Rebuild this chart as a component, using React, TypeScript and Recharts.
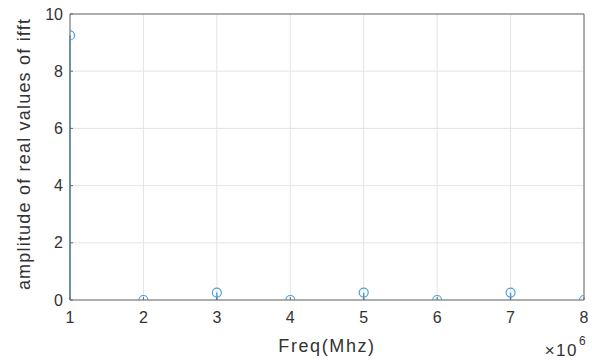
import React from 'react';
import { ComposedChart, XAxis, YAxis, CartesianGrid, Scatter, ReferenceLine } from 'recharts';

const freqs = [1, 2, 3, 4, 5, 6, 7, 8];
const amplitudes = [9.25, 0, 0.26, 0, 0.26, 0, 0.26, 0];
const xTicks = [1, 2, 3, 4, 5, 6, 7, 8];
const yTicks = [0, 2, 4, 6, 8, 10];
const xLabel = 'Freq(Mhz)';
const yLabel = 'amplitude of real values of ifft';

const data = freqs.map((f, i) => ({ f, a: amplitudes[i] }));

const BLUE = '#4aa0dc';
const AXIS = '#6b6b6b';
const TEXT = '#333333';
const FONT = 'Liberation Sans, Arial, Helvetica, sans-serif';

const StemHead = (props: any) => {
  const { cx, cy } = props;
  return <circle cx={cx} cy={cy} r={4.5} fill="none" stroke={BLUE} strokeWidth={1.2} />;
};

const NoShape = () => <g />;

const YLabelContent = (props: any) => {
  const vb = props.viewBox || {};
  const x = vb.x + 24;
  const y = vb.y + vb.height / 2 - 3;
  return (
    <text x={x} y={y} transform={`rotate(-90 ${x} ${y})`} textAnchor="middle" dominantBaseline="central"
      fontFamily={FONT} fontSize={18} fill={TEXT} letterSpacing={1.2}>
      {yLabel}
    </text>
  );
};

const XLabelContent = (props: any) => {
  const vb = props.viewBox || {};
  const cx = vb.x + vb.width / 2;
  const bottom = vb.y + vb.height;
  return (
    <g fontFamily={FONT} fill={TEXT}>
      <text x={cx} y={bottom - 8} textAnchor="middle" fontSize={18} letterSpacing={1.6}>{xLabel}</text>
      <text x={vb.x + vb.width - 6} y={bottom - 4} textAnchor="end" fontSize={17} letterSpacing={1.5}>×10</text>
      <text x={vb.x + vb.width - 5} y={bottom - 15} textAnchor="start" fontSize={12}>6</text>
    </g>
  );
};

export default function App() {
  return (
    <div style={{ position: 'absolute', left: 0, top: 0, width: 592, height: 360, background: '#fff' }}>
      <ComposedChart width={592} height={360} data={data} margin={{ top: 14, right: 8, left: 0, bottom: 0 }}>
        <CartesianGrid stroke="#e4e4e4" strokeWidth={1} horizontal vertical />
        <XAxis
          xAxisId="top"
          orientation="top"
          type="number"
          dataKey="f"
          domain={[1, 8]}
          ticks={xTicks}
          height={0}
          tickSize={-3}
          tickFormatter={() => ''}
          stroke={AXIS}
          allowDataOverflow
        />
        <YAxis
          yAxisId="right"
          orientation="right"
          type="number"
          dataKey="a"
          domain={[0, 10]}
          ticks={yTicks}
          width={0}
          tickSize={-3}
          tickFormatter={() => ''}
          stroke={AXIS}
          allowDataOverflow
        />
        <XAxis
          type="number"
          dataKey="f"
          domain={[1, 8]}
          ticks={xTicks}
          height={60}
          tickSize={-3}
          tickMargin={15}
          stroke={AXIS}
          fontSize={16}
          tick={{ fill: TEXT, fontSize: 16, fontFamily: FONT }}
          allowDataOverflow
          label={{ content: XLabelContent }}
        />
        <YAxis
          type="number"
          dataKey="a"
          domain={[0, 10]}
          ticks={yTicks}
          width={70}
          tickSize={-3}
          tickMargin={10}
          stroke={AXIS}
          fontSize={16}
          tick={{ fill: TEXT, fontSize: 16, fontFamily: FONT }}
          allowDataOverflow
          label={{ content: YLabelContent }}
        />
        <ReferenceLine y={10} stroke={AXIS} ifOverflow="visible" />
        <ReferenceLine x={8} stroke={AXIS} ifOverflow="visible" />
        {data.map((d) => (
          <ReferenceLine
            key={d.f}
            segment={[{ x: d.f, y: 0 }, { x: d.f, y: d.a }]}
            stroke={BLUE}
            strokeWidth={1.5}
            ifOverflow="visible"
          />
        ))}
        <Scatter xAxisId="top" yAxisId="right" data={data} dataKey="a" shape={NoShape} isAnimationActive={false} />
        <Scatter data={data} dataKey="a" shape={StemHead} isAnimationActive={false} />
      </ComposedChart>
    </div>
  );
}
